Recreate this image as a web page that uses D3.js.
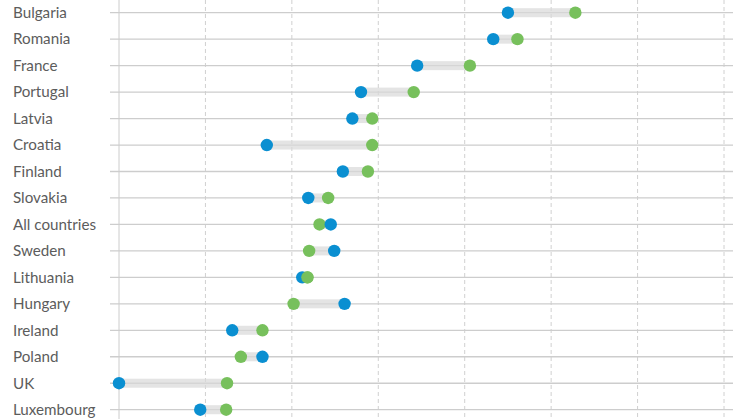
<!DOCTYPE html>
<html>
<head>
<meta charset="utf-8">
<script src="https://cdn.jsdelivr.net/npm/d3@7"></script>
<style>
  html, body { margin: 0; padding: 0; background: #fff; }
  svg { display: block; }
</style>
</head>
<body>
<div id="chart"></div>
<script>
// countries, top to bottom
var countries = ["Bulgaria", "Romania", "France", "Portugal", "Latvia", "Croatia", "Finland",
    "Slovakia", "All countries", "Sweden", "Lithuania", "Hungary", "Ireland", "Poland", "UK", "Luxembourg"];

// blue series
var blueValues = [22.5, 21.65, 17.25, 14.0, 13.5, 8.55, 12.95,
    10.95, 12.25, 12.45, 10.6, 13.05, 6.55, 8.3, 0.0, 4.7];

// green series
var greenValues = [26.4, 23.05, 20.3, 17.05, 14.65, 14.65, 14.4,
    12.1, 11.6, 11.0, 10.9, 10.1, 8.3, 7.05, 6.25, 6.2];

var xTicks = [0, 5, 10, 15, 20, 25, 30, 35];

var data = countries.map(function (c, i) {
    return {country: c, blue: blueValues[i], green: greenValues[i]};
});

var width = 746, height = 419;

var svg = d3.select("#chart")
    .append("svg")
    .attr("width", width)
    .attr("height", height);

// scales
var x = d3.scaleLinear()
    .domain([0, 35])
    .range([119, 724]);

var y = d3.scalePoint()
    .domain(countries)
    .range([12.7, 409.7]);

// vertical gridlines
svg.selectAll(".vgrid")
    .data(xTicks)
    .enter().append("line")
    .attr("class", "vgrid")
    .attr("x1", function (d) { return x(d); })
    .attr("x2", function (d) { return x(d); })
    .attr("y1", 0)
    .attr("y2", height)
    .style("stroke", function (d) { return d === 0 ? "#cccccc" : "#d0d0d0"; })
    .style("stroke-width", 1)
    .style("stroke-dasharray", function (d) { return d === 0 ? null : "4,3"; });

// row lines
svg.selectAll(".row")
    .data(data)
    .enter().append("line")
    .attr("class", "row")
    .attr("x1", 110)
    .attr("x2", 733)
    .attr("y1", function (d) { return y(d.country); })
    .attr("y2", function (d) { return y(d.country); })
    .style("stroke", "#cdcdcd")
    .style("stroke-width", 1.3);

// band between the dots
svg.selectAll(".band")
    .data(data)
    .enter().append("rect")
    .attr("class", "band")
    .attr("x", function (d) { return x(Math.min(d.blue, d.green)); })
    .attr("y", function (d) { return y(d.country) - 4.5; })
    .attr("width", function (d) { return Math.abs(x(d.blue) - x(d.green)); })
    .attr("height", 9)
    .style("fill", "#d9d9d9")
    .style("opacity", 0.7);

// labels
svg.selectAll(".label")
    .data(data)
    .enter().append("text")
    .attr("class", "label")
    .attr("x", 13)
    .attr("y", function (d) { return y(d.country); })
    .attr("dy", "0.35em")
    .text(function (d) { return d.country; })
    .style("font-family", "Lato, 'Open Sans', sans-serif")
    .style("font-size", "15.2px")
    .style("fill", "#5c5c5c");

// dots
svg.selectAll(".dot-green")
    .data(data)
    .enter().append("circle")
    .attr("class", "dot-green")
    .attr("cx", function (d) { return x(d.green); })
    .attr("cy", function (d) { return y(d.country); })
    .attr("r", 6.2)
    .style("fill", "#77c05c");

svg.selectAll(".dot-blue")
    .data(data)
    .enter().append("circle")
    .attr("class", "dot-blue")
    .attr("cx", function (d) { return x(d.blue); })
    .attr("cy", function (d) { return y(d.country); })
    .attr("r", 6.2)
    .style("fill", "#0a8fd1");

// Lithuania: green sits on top of blue in the original
svg.selectAll(".dot-green-top")
    .data(data.filter(function (d) { return d.green > d.blue && d.green - d.blue < 0.6; }))
    .enter().append("circle")
    .attr("class", "dot-green-top")
    .attr("cx", function (d) { return x(d.green); })
    .attr("cy", function (d) { return y(d.country); })
    .attr("r", 6.2)
    .style("fill", "#77c05c");
</script>
</body>
</html>
